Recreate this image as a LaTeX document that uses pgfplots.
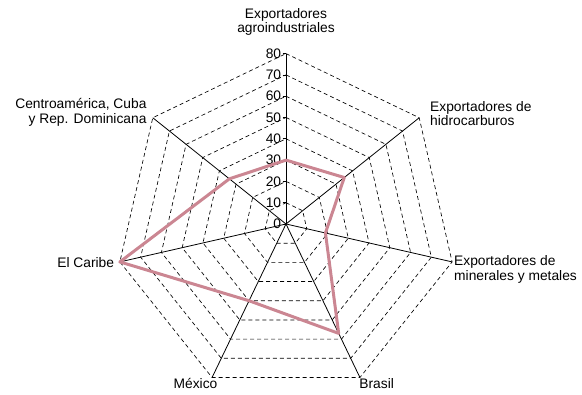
\documentclass[border=0pt]{standalone}
\usepackage{fontspec}
\setmainfont{Liberation Sans}
\usepackage{pgfplots}
\pgfplotsset{compat=1.18}
\definecolor{rose}{RGB}{203,134,146}
\begin{document}
\fontsize{13.8}{14}\selectfont
\begin{tikzpicture}
\path[use as bounding box] (-286pt,-171pt) rectangle (296pt,224pt);
\begin{axis}[at={(0pt,0pt)}, anchor=center, x=2.13pt, y=2.13pt,
  xmin=-80, xmax=80, ymin=-80, ymax=80, hide axis, clip=false]
% dashed heptagon grid
\pgfplotsinvokeforeach{10,20,30,40,50,60,70,80}{
  \addplot[black, line width=0.65pt, dash pattern=on 4pt off 3pt, data cs=polar, mark=none]
    coordinates {(90,#1) (38.571,#1) (-12.857,#1) (-64.286,#1) (-115.714,#1) (-167.143,#1) (141.429,#1) (90,#1)};
}
% spokes
\pgfplotsinvokeforeach{90,38.571,-12.857,-64.286,-115.714,-167.143,141.429}{
  \addplot[black, line width=0.8pt, data cs=polar, mark=none] coordinates {(#1,0) (#1,80)};
}
% ticks on the vertical axis
\pgfplotsinvokeforeach{0,10,20,30,40,50,60,70,80}{
  \addplot[black, line width=0.6pt, mark=none] coordinates {(-1.6,#1) (0,#1)};
  \node[anchor=east, inner sep=0pt] at (axis cs:-2.2,#1) {#1};
}
% data
\addplot[rose, line width=3pt, data cs=polar, mark=none, line join=round, line cap=round]
  coordinates {(90,30) (38.571,35) (-12.857,19) (-64.286,57) (-115.714,40) (-167.143,80) (141.429,34) (90,30)};
\end{axis}
% category labels
\node[anchor=base, inner sep=0pt] at (0pt,205.7pt) {Exportadores};
\node[anchor=base, inner sep=0pt] at (0pt,191.7pt) {agroindustriales};
\node[anchor=base west, inner sep=0pt] at (144pt,112.3pt) {Exportadores de};
\node[anchor=base west, inner sep=0pt] at (144pt,98pt) {hidrocarburos};
\node[anchor=base west, inner sep=0pt] at (168pt,-42pt) {Exportadores de};
\node[anchor=base west, inner sep=0pt] at (168pt,-56.3pt) {minerales y metales};
\node[anchor=base east, inner sep=0pt] at (-139.3pt,115pt) {Centroamérica, Cuba};
\node[anchor=base east, inner sep=0pt] at (-139.3pt,100.7pt) {y Rep. Dominicana};
\node[anchor=base east, inner sep=0pt] at (-171.7pt,-43.7pt) {El Caribe};
\node[anchor=base, inner sep=0pt] at (-90.5pt,-165pt) {México};
\node[anchor=base, inner sep=0pt] at (90.7pt,-165pt) {Brasil};
\end{tikzpicture}
\end{document}
